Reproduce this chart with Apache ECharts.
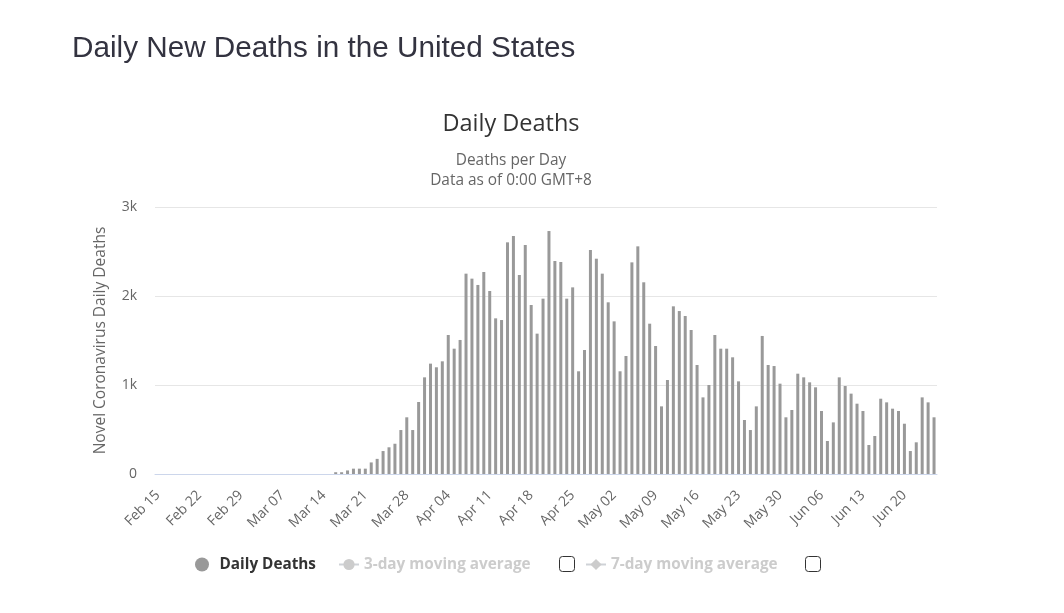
<!DOCTYPE html>
<html>
<head>
<meta charset="utf-8">
<script src="https://cdn.jsdelivr.net/npm/echarts@6/dist/echarts.min.js"></script>
<style>
html,body{margin:0;padding:0;background:#fff;}
#chart{width:1064px;height:613px;}
</style>
</head>
<body>
<div id="chart"></div>
<script>
// Dates Feb 15 .. Jun 25
const monthNames = ['Jan','Feb','Mar','Apr','May','Jun','Jul','Aug','Sep','Oct','Nov','Dec'];
const categories = [];
for (let i = 0; i < 132; i++) {
  const d = new Date(2020, 1, 15 + i);
  categories.push(monthNames[d.getMonth()] + ' ' + String(d.getDate()).padStart(2, '0'));
}

const dailyDeaths = [
  0,0,0,0,0,0,0,0,0,0,
  0,0,0,0,0,0,0,0,0,0,
  0,0,0,0,0,0,0,0,0,0,
  20,20,40,60,60,60,130,170,258,300,
  340,494,637,494,809,1086,1240,1199,1266,1562,
  1408,1506,2251,2195,2124,2270,2056,1749,1730,2603,
  2674,2236,2573,1899,1577,1970,2730,2393,2382,1970,
  2097,1154,1393,2517,2419,2251,1929,1715,1154,1326,
  2378,2558,2154,1689,1438,760,1056,1884,1831,1775,
  1618,1225,861,1000,1562,1408,1408,1311,1041,607,
  494,760,1551,1225,1213,1015,637,719,1127,1086,
  1030,974,708,371,580,1086,989,903,790,708,
  326,427,846,805,734,708,565,258,356,861,
  805,637
];
const movingAvg3 = [];
const movingAvg7 = [];
const yTicks = [0, 1000, 2000, 3000];

const chart = echarts.init(document.getElementById('chart'), null, {renderer: 'canvas'});
const uiFont = '"Open Sans", "Noto Sans", sans-serif';
const legendText = {color: '#333333', fontSize: 15.3, fontWeight: 'bold', fontFamily: uiFont};
const option = {
  animation: false,
  backgroundColor: '#ffffff',
  grid: {left: 155, right: 127, top: 207, bottom: 139, containLabel: false},
  xAxis: {
    type: 'category',
    data: categories,
    axisLine: {show: true, lineStyle: {color: '#ccd6eb', width: 1}},
    axisTick: {show: false},
    axisLabel: {
      interval: 6,
      rotate: 45,
      margin: 19,
      color: '#666666',
      fontSize: 14,
      fontFamily: uiFont
    },
    splitLine: {show: false}
  },
  yAxis: {
    type: 'value',
    min: yTicks[0],
    max: yTicks[yTicks.length - 1],
    interval: 1000,
    name: 'Novel Coronavirus Daily Deaths',
    nameLocation: 'middle',
    nameGap: 46,
    nameRotate: 90,
    nameTextStyle: {color: '#666666', fontSize: 15.5, fontFamily: uiFont},
    axisLine: {show: false},
    axisTick: {show: false},
    axisLabel: {
      margin: 18,
      color: '#666666',
      fontSize: 14,
      fontFamily: uiFont,
      formatter: v => v === 0 ? '0' : (v / 1000) + 'k'
    },
    splitLine: {lineStyle: {color: '#e6e6e6', width: 1}}
  },
  legend: [
    {
      data: [{name: 'Daily Deaths', icon: 'circle'}],
      left: 190, top: 552,
      itemWidth: 25, itemHeight: 14,
      textStyle: legendText,
      inactiveColor: '#cccccc'
    },
    {
      data: ['3-day moving average'],
      left: 333, top: 552,
      itemWidth: 20, itemHeight: 14,
      selected: {'3-day moving average': false},
      textStyle: legendText,
      inactiveColor: '#cccccc'
    },
    {
      data: ['7-day moving average'],
      left: 580, top: 552,
      itemWidth: 20, itemHeight: 14,
      selected: {'7-day moving average': false},
      textStyle: legendText,
      inactiveColor: '#cccccc'
    }
  ],
  series: [
    {
      name: 'Daily Deaths',
      type: 'bar',
      data: dailyDeaths,
      barWidth: 3,
      itemStyle: {color: '#999999'}
    },
    {
      name: '3-day moving average',
      type: 'line',
      data: movingAvg3,
      symbol: 'circle',
      itemStyle: {color: '#999999'}
    },
    {
      name: '7-day moving average',
      type: 'line',
      data: movingAvg7,
      symbol: 'diamond',
      itemStyle: {color: '#999999'}
    }
  ],
  graphic: [
    {type: 'text', x: 72, y: 49, style: {text: 'Daily New Deaths in the United States', fill: '#333340', font: '29.7px "Liberation Sans", Arial, sans-serif', textVerticalAlign: 'middle'}},
    {type: 'text', x: 511, y: 124, style: {text: 'Daily Deaths', fill: '#333333', font: '23.5px ' + uiFont, textAlign: 'center', textVerticalAlign: 'middle'}},
    {type: 'text', x: 511, y: 161, style: {text: 'Deaths per Day', fill: '#666666', font: '15.4px ' + uiFont, textAlign: 'center', textVerticalAlign: 'middle'}},
    {type: 'text', x: 511, y: 181, style: {text: 'Data as of 0:00 GMT+8', fill: '#666666', font: '15.4px ' + uiFont, textAlign: 'center', textVerticalAlign: 'middle'}},
    {type: 'rect', shape: {x: 559.5, y: 556.5, width: 15, height: 15, r: 3}, style: {fill: '#ffffff', stroke: '#333333', lineWidth: 1}},
    {type: 'rect', shape: {x: 805.5, y: 556.5, width: 15, height: 15, r: 3}, style: {fill: '#ffffff', stroke: '#333333', lineWidth: 1}}
  ]
};
chart.setOption(option);
</script>
</body>
</html>
